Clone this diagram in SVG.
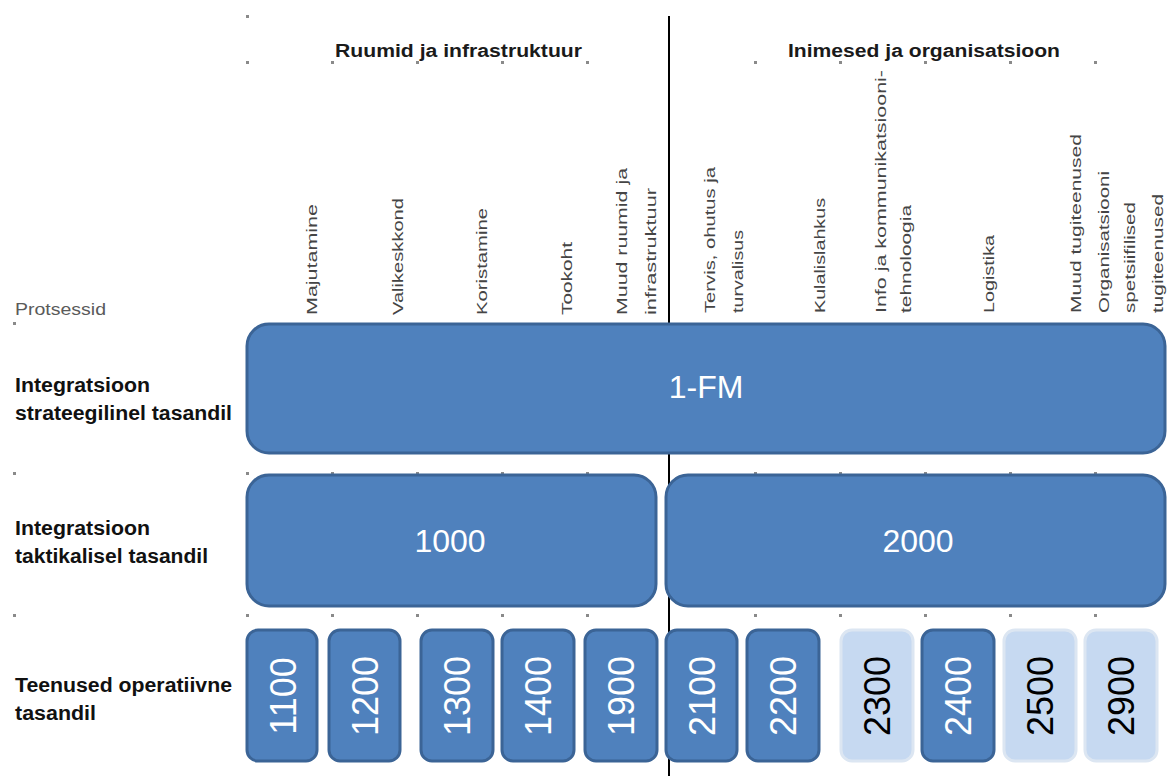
<svg xmlns="http://www.w3.org/2000/svg" width="1168" height="776" viewBox="0 0 1168 776">
<style>
.hdr{font-family:"Liberation Sans",Arial,sans-serif;font-weight:bold;font-size:18px;fill:#1a1a1a}
.row{font-family:"Liberation Sans",Arial,sans-serif;font-weight:bold;font-size:20px;fill:#111}
.proc{font-family:"Liberation Sans",Arial,sans-serif;font-size:16px;fill:#5a5a5a}
.col{font-family:"Liberation Sans",Arial,sans-serif;font-size:15px;fill:#454545}
.dark{fill:#4F81BD;stroke:#3B6496;stroke-width:3}
.light{fill:#C6D9F1;stroke:#DCE6F2;stroke-width:3}
.wt{font-family:"Liberation Sans",Arial,sans-serif;font-size:32px;fill:#fff;text-anchor:middle;dominant-baseline:central}
.num{font-family:"Liberation Sans",Arial,sans-serif;font-size:36px;text-anchor:middle;dominant-baseline:central}
.dot{fill:#8a8a8a}
</style>
<rect width="1168" height="776" fill="#fff"/>
<g id="grid">
<line x1="669" y1="16" x2="669" y2="776" stroke="#000" stroke-width="2"/>
<g class="dot">
<rect x="246" y="15" width="3" height="3"/>
<rect x="13" y="322" width="3" height="3"/><rect x="13" y="472" width="3" height="3"/><rect x="13" y="614" width="3" height="3"/>
<rect x="246" y="61" width="3" height="3"/><rect x="331" y="61" width="3" height="3"/><rect x="416" y="61" width="3" height="3"/><rect x="501" y="61" width="3" height="3"/><rect x="586" y="61" width="3" height="3"/><rect x="754" y="61" width="3" height="3"/><rect x="839" y="61" width="3" height="3"/><rect x="924" y="61" width="3" height="3"/><rect x="1009" y="61" width="3" height="3"/><rect x="1094" y="61" width="3" height="3"/>
<rect x="246" y="472" width="3" height="3"/><rect x="331" y="472" width="3" height="3"/><rect x="416" y="472" width="3" height="3"/><rect x="501" y="472" width="3" height="3"/><rect x="586" y="472" width="3" height="3"/><rect x="754" y="472" width="3" height="3"/><rect x="839" y="472" width="3" height="3"/><rect x="924" y="472" width="3" height="3"/><rect x="1009" y="472" width="3" height="3"/><rect x="1094" y="472" width="3" height="3"/>
<rect x="246" y="614" width="3" height="3"/><rect x="331" y="614" width="3" height="3"/><rect x="416" y="614" width="3" height="3"/><rect x="501" y="614" width="3" height="3"/><rect x="586" y="614" width="3" height="3"/><rect x="754" y="614" width="3" height="3"/><rect x="839" y="614" width="3" height="3"/><rect x="924" y="614" width="3" height="3"/><rect x="1009" y="614" width="3" height="3"/><rect x="1094" y="614" width="3" height="3"/>
</g>
</g>
<g id="headers">
<text class="hdr" x="335" y="57" textLength="247" lengthAdjust="spacingAndGlyphs">Ruumid ja infrastruktuur</text>
<text class="hdr" x="788" y="57" textLength="272" lengthAdjust="spacingAndGlyphs">Inimesed ja organisatsioon</text>
</g>
<g id="row-labels">
<text class="proc" x="15" y="315" textLength="91" lengthAdjust="spacingAndGlyphs">Protsessid</text>
<text class="row" x="15" y="392" textLength="135" lengthAdjust="spacingAndGlyphs">Integratsioon</text>
<text class="row" x="15" y="420" textLength="217" lengthAdjust="spacingAndGlyphs">strateegilinel tasandil</text>
<text class="row" x="15" y="535" textLength="135" lengthAdjust="spacingAndGlyphs">Integratsioon</text>
<text class="row" x="15" y="563" textLength="193" lengthAdjust="spacingAndGlyphs">taktikalisel tasandil</text>
<text class="row" x="15" y="692" textLength="217" lengthAdjust="spacingAndGlyphs">Teenused operatiivne</text>
<text class="row" x="15" y="720" textLength="81" lengthAdjust="spacingAndGlyphs">tasandil</text>
</g>
<g id="process-labels">
<text class="col" transform="translate(317,315) rotate(-90)" textLength="111" lengthAdjust="spacingAndGlyphs">Majutamine</text>
<text class="col" transform="translate(403,315) rotate(-90)" textLength="117" lengthAdjust="spacingAndGlyphs">Valikeskkond</text>
<text class="col" transform="translate(487,315) rotate(-90)" textLength="107" lengthAdjust="spacingAndGlyphs">Koristamine</text>
<text class="col" transform="translate(572,315) rotate(-90)" textLength="73" lengthAdjust="spacingAndGlyphs">Tookoht</text>
<text class="col" transform="translate(627,315) rotate(-90)" textLength="147" lengthAdjust="spacingAndGlyphs">Muud ruumid ja</text>
<text class="col" transform="translate(656,315) rotate(-90)" textLength="127" lengthAdjust="spacingAndGlyphs">infrastruktuur</text>
<text class="col" transform="translate(715,313) rotate(-90)" textLength="146" lengthAdjust="spacingAndGlyphs">Tervis, ohutus ja</text>
<text class="col" transform="translate(743,313) rotate(-90)" textLength="83" lengthAdjust="spacingAndGlyphs">turvalisus</text>
<text class="col" transform="translate(825,313) rotate(-90)" textLength="115" lengthAdjust="spacingAndGlyphs">Kulalislahkus</text>
<text class="col" transform="translate(886,313) rotate(-90)" textLength="243" lengthAdjust="spacingAndGlyphs">Info ja kommunikatsiooni-</text>
<text class="col" transform="translate(911,313) rotate(-90)" textLength="108" lengthAdjust="spacingAndGlyphs">tehnoloogia</text>
<text class="col" transform="translate(994,313) rotate(-90)" textLength="78" lengthAdjust="spacingAndGlyphs">Logistika</text>
<text class="col" transform="translate(1081,313) rotate(-90)" textLength="179" lengthAdjust="spacingAndGlyphs">Muud tugiteenused</text>
<text class="col" transform="translate(1109,313) rotate(-90)" textLength="142" lengthAdjust="spacingAndGlyphs">Organisatsiooni</text>
<text class="col" transform="translate(1135,313) rotate(-90)" textLength="111" lengthAdjust="spacingAndGlyphs">spetsiifilised</text>
<text class="col" transform="translate(1163,313) rotate(-90)" textLength="119" lengthAdjust="spacingAndGlyphs">tugiteenused</text>
</g>
<g id="n-1FM"><rect class="dark" x="247" y="324" width="918" height="129" rx="22"/><text class="wt" x="706" y="387">1-FM</text></g>
<g id="n-1000"><rect class="dark" x="247" y="475" width="409" height="131" rx="22"/><text class="wt" x="450" y="541">1000</text></g>
<g id="n-2000"><rect class="dark" x="666" y="475" width="499" height="131" rx="22"/><text class="wt" x="918" y="541">2000</text></g>
<g id="n-1100"><rect class="dark" x="247" y="630" width="70" height="131" rx="11"/><text class="num" fill="#fff" transform="translate(283,696) rotate(-90)">1100</text></g>
<g id="n-1200"><rect class="dark" x="329" y="630" width="71" height="131" rx="11"/><text class="num" fill="#fff" transform="translate(365,696) rotate(-90)">1200</text></g>
<g id="n-1300"><rect class="dark" x="421" y="630" width="72" height="131" rx="11"/><text class="num" fill="#fff" transform="translate(457,696) rotate(-90)">1300</text></g>
<g id="n-1400"><rect class="dark" x="502" y="630" width="72" height="131" rx="11"/><text class="num" fill="#fff" transform="translate(538,696) rotate(-90)">1400</text></g>
<g id="n-1900"><rect class="dark" x="585" y="630" width="72" height="131" rx="11"/><text class="num" fill="#fff" transform="translate(621,696) rotate(-90)">1900</text></g>
<g id="n-2100"><rect class="dark" x="666" y="630" width="71" height="131" rx="11"/><text class="num" fill="#fff" transform="translate(702,696) rotate(-90)">2100</text></g>
<g id="n-2200"><rect class="dark" x="747" y="630" width="72" height="131" rx="11"/><text class="num" fill="#fff" transform="translate(783,696) rotate(-90)">2200</text></g>
<g id="n-2300"><rect class="light" x="841" y="630" width="72" height="131" rx="11"/><text class="num" fill="#000" transform="translate(877,696) rotate(-90)">2300</text></g>
<g id="n-2400"><rect class="dark" x="922" y="630" width="72" height="131" rx="11"/><text class="num" fill="#fff" transform="translate(958,696) rotate(-90)">2400</text></g>
<g id="n-2500"><rect class="light" x="1004" y="630" width="72" height="131" rx="11"/><text class="num" fill="#000" transform="translate(1040,696) rotate(-90)">2500</text></g>
<g id="n-2900"><rect class="light" x="1085" y="630" width="72" height="131" rx="11"/><text class="num" fill="#000" transform="translate(1121,696) rotate(-90)">2900</text></g>
</svg>
